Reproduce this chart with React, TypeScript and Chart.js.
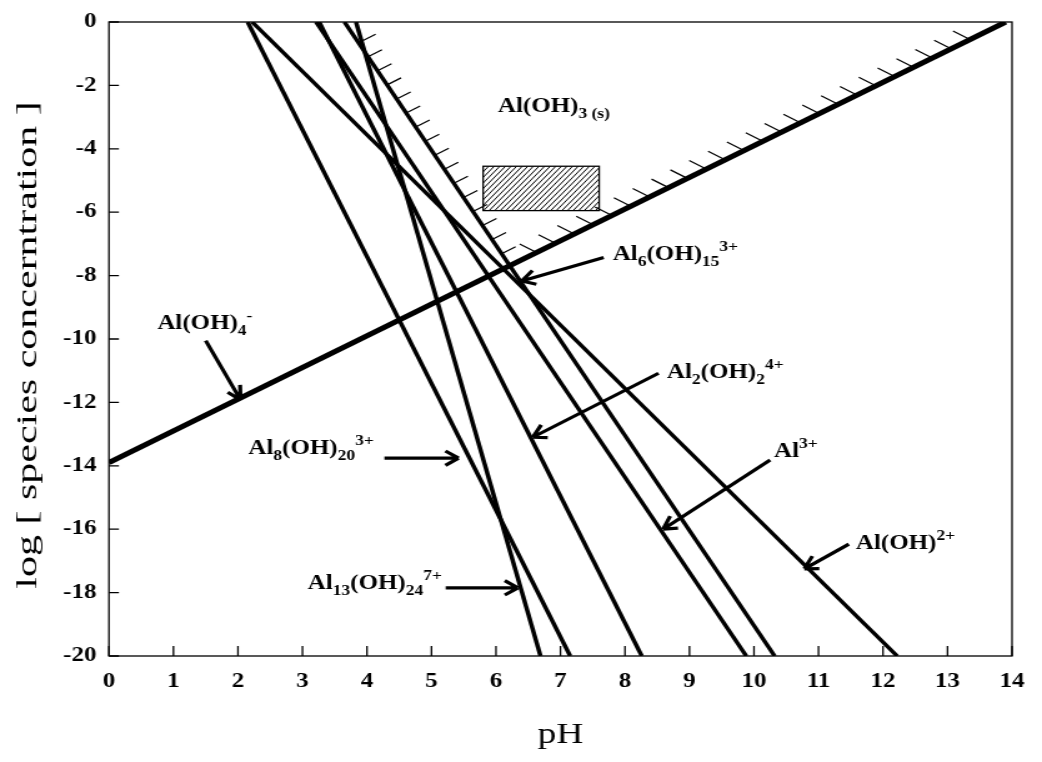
import React, { useEffect, useRef } from "react";
import { Chart, registerables } from "chart.js";

Chart.register(...registerables);

// horizontal stretch of the reference picture (text is ~1.25x wider than tall)
const SX = 1.25;
const CW = 1042;
const CH = 762;
const IW = Math.round(CW / SX);

// ---------------- data ----------------
const speciesLabels = [
  "Al(OH)4-",
  "Al3+",
  "Al(OH)2+",
  "Al2(OH)2 4+",
  "Al6(OH)15 3+",
  "Al8(OH)20 3+",
  "Al13(OH)24 7+",
];
const startPH = [0, 3.21, 2.22, 3.26, 3.65, 2.15, 3.83];
const startLog = [-13.9, 0, 0, 0, 0, 0, 0];
const endPH = [13.9, 9.88, 12.22, 8.26, 10.32, 7.15, 6.69];
const endLog = [0, -20, -20, -20, -20, -20, -20];

const xTickValues = [0, 1, 2, 3, 4, 5, 6, 7, 8, 9, 10, 11, 12, 13, 14];
const yTickValues = [0, -2, -4, -6, -8, -10, -12, -14, -16, -18, -20];

const xTitle = "pH";
const yTitle = "log [ species concerntration ]";

// hatched box inside the solid region
const boxPH = [5.8, 7.6];
const boxLog = [-4.55, -5.95];

// solid boundary is made of these lines (indices into the species arrays)
const boundaryUpper = 6; // Al13 line near the top
const boundaryLeft = 4; // Al6 line
const boundaryRight = 0; // Al(OH)4- line

// ---------------- annotation layout (data coords) ----------------
type Part = [string, number]; // 0 normal, 1 sub, 2 sup
const annotations: { parts: Part[]; at: [number, number]; from?: [number, number]; to?: [number, number] }[] = [
  { parts: [["Al(OH)", 0], ["3 (s)", 1]], at: [6.03, -2.84] },
  { parts: [["Al", 0], ["6", 1], ["(OH)", 0], ["15", 1], ["3+", 2]], at: [7.81, -7.52], from: [7.67, -7.43], to: [6.4, -8.17] },
  { parts: [["Al(OH)", 0], ["4", 1], ["-", 2]], at: [0.75, -9.7], from: [1.5, -10.05], to: [2.04, -11.92] },
  { parts: [["Al", 0], ["2", 1], ["(OH)", 0], ["2", 1], ["4+", 2]], at: [8.65, -11.23], from: [8.52, -11.08], to: [6.57, -13.1] },
  { parts: [["Al", 0], ["3+", 2]], at: [10.31, -13.73], from: [10.25, -13.82], to: [8.59, -16.0] },
  { parts: [["Al(OH)", 0], ["2+", 2]], at: [11.58, -16.63], from: [11.47, -16.47], to: [10.78, -17.25] },
  { parts: [["Al", 0], ["8", 1], ["(OH)", 0], ["20", 1], ["3+", 2]], at: [2.16, -13.63], from: [4.27, -13.76], to: [5.42, -13.76] },
  { parts: [["Al", 0], ["13", 1], ["(OH)", 0], ["24", 1], ["7+", 2]], at: [3.08, -17.88], from: [5.22, -17.85], to: [6.34, -17.85] },
];

const SERIF = "'Liberation Serif', 'Times New Roman', Times, serif";

function lineCoef(i: number) {
  const m = (endLog[i] - startLog[i]) / (endPH[i] - startPH[i]);
  return { m, b: startLog[i] - m * startPH[i] };
}
function intersect(i: number, j: number): [number, number] {
  const a = lineCoef(i);
  const c = lineCoef(j);
  const x = (c.b - a.b) / (a.m - c.m);
  return [x, a.m * x + a.b];
}

const decorPlugin = {
  id: "decor",
  afterDatasetsDraw(chart: any) {
    const { ctx, chartArea: a } = chart;
    const xs = chart.scales.x;
    const ys = chart.scales.y;
    const P = (ph: number, lg: number): [number, number] => [xs.getPixelForValue(ph), ys.getPixelForValue(lg)];
    ctx.save();
    ctx.strokeStyle = "#000";
    ctx.fillStyle = "#000";

    // frame
    ctx.lineWidth = 1.3;
    ctx.strokeRect(a.left, a.top, a.right - a.left, a.bottom - a.top);
    // inner tick marks
    ctx.beginPath();
    xs.ticks.forEach((t: any) => {
      const px = xs.getPixelForValue(t.value);
      ctx.moveTo(px, a.bottom);
      ctx.lineTo(px, a.bottom - 10);
    });
    ys.ticks.forEach((t: any) => {
      const py = ys.getPixelForValue(t.value);
      ctx.moveTo(a.left, py);
      ctx.lineTo(a.left + 10 / SX, py);
    });
    ctx.stroke();

    // y axis title (long, wide lettering)
    ctx.save();
    ctx.translate(28 / SX, (a.top + a.bottom) / 2 + 6);
    ctx.rotate(-Math.PI / 2);
    ctx.scale(1.4, 1 / SX);
    ctx.font = `30px ${SERIF}`;
    ctx.textAlign = "center";
    ctx.textBaseline = "middle";
    ctx.fillText(yTitle, 0, 0);
    ctx.restore();

    // hatch marks along the solid boundary
    const p0 = P(startPH[boundaryUpper], startLog[boundaryUpper]);
    const i1 = intersect(boundaryUpper, boundaryLeft);
    const p1 = P(i1[0], i1[1]);
    const i2 = intersect(boundaryLeft, boundaryRight);
    const p2 = P(i2[0], i2[1]);
    const p3 = P(endPH[boundaryRight], endLog[boundaryRight]);
    const walk = (pts: [number, number][], start: number, step: number, endGap: number, vx: number, vy: number) => {
      const r = pts.map(([x, y]) => [x * SX, y]);
      const segs: number[] = [];
      let total = 0;
      for (let k = 1; k < r.length; k++) {
        const d = Math.hypot(r[k][0] - r[k - 1][0], r[k][1] - r[k - 1][1]);
        segs.push(d);
        total += d;
      }
      ctx.beginPath();
      for (let s = start; s <= total - endGap; s += step) {
        let acc = 0;
        let k = 0;
        while (k < segs.length - 1 && acc + segs[k] < s) {
          acc += segs[k];
          k++;
        }
        const t = (s - acc) / segs[k];
        const X = r[k][0] + (r[k + 1][0] - r[k][0]) * t;
        const Y = r[k][1] + (r[k + 1][1] - r[k][1]) * t;
        ctx.moveTo(X / SX, Y);
        ctx.lineTo((X + vx) / SX, Y + vy);
      }
      ctx.stroke();
    };
    ctx.lineWidth = 1.2;
    walk([p0, p1, p2], 20, 17, 12, 14, -7);
    walk([p2, p3], 30, 21, 25, -17, -8.5);

    // hatched box
    const b1 = P(boxPH[0], boxLog[0]);
    const b2 = P(boxPH[1], boxLog[1]);
    const bh = b2[1] - b1[1];
    ctx.save();
    ctx.beginPath();
    ctx.rect(b1[0], b1[1], b2[0] - b1[0], bh);
    ctx.clip();
    ctx.lineWidth = 1;
    ctx.beginPath();
    for (let X = b1[0] * SX - bh; X < b2[0] * SX + 2; X += 5.6) {
      ctx.moveTo(X / SX, b2[1]);
      ctx.lineTo((X + bh) / SX, b1[1]);
    }
    ctx.stroke();
    ctx.restore();
    ctx.lineWidth = 1.3;
    ctx.strokeRect(b1[0], b1[1], b2[0] - b1[0], bh);

    // labels and arrows
    ctx.textBaseline = "alphabetic";
    ctx.textAlign = "left";
    annotations.forEach((an) => {
      let [x, y] = P(an.at[0], an.at[1]);
      an.parts.forEach(([t, kind]) => {
        const size = kind === 0 ? 20 : 14;
        ctx.font = `bold ${size}px ${SERIF}`;
        const dy = kind === 1 ? 6 : kind === 2 ? -9 : 0;
        ctx.fillText(t, x, y + dy);
        x += ctx.measureText(t).width;
      });
      if (an.from && an.to) {
        const [x1, y1] = P(an.from[0], an.from[1]);
        const [x2, y2] = P(an.to[0], an.to[1]);
        const X1 = x1 * SX;
        const X2 = x2 * SX;
        const ang = Math.atan2(y2 - y1, X2 - X1);
        const L = 15;
        const A = 0.5;
        ctx.lineWidth = 3.2;
        ctx.lineCap = "butt";
        ctx.beginPath();
        ctx.moveTo(x1, y1);
        ctx.lineTo(x2, y2);
        [-1, 1].forEach((s) => {
          const aa = ang + Math.PI + s * A;
          ctx.moveTo(x2, y2);
          ctx.lineTo((X2 + L * Math.cos(aa)) / SX, y2 + L * Math.sin(aa));
        });
        ctx.stroke();
      }
    });
    ctx.restore();
  },
};

export default function App() {
  const ref = useRef<HTMLCanvasElement>(null);
  useEffect(() => {
    const canvas = ref.current;
    if (!canvas) return;
    const tickFont = { family: SERIF, size: 20, weight: "bold" as const };
    const chart = new Chart(canvas, {
      type: "line",
      data: {
        datasets: speciesLabels.map((name, i) => ({
          label: name,
          data: [
            { x: startPH[i], y: startLog[i] },
            { x: endPH[i], y: endLog[i] },
          ],
          borderColor: "#000",
          borderWidth: i === 0 ? 5 : 3.5,
          pointRadius: 0,
          fill: false,
          tension: 0,
        })),
      },
      options: {
        animation: false,
        responsive: false,
        devicePixelRatio: 1,
        events: [],
        layout: { padding: { left: 0, top: 15, right: IW - 1023 / SX, bottom: 0 } },
        plugins: { legend: { display: false }, tooltip: { enabled: false }, title: { display: false } },
        scales: {
          x: {
            type: "linear",
            min: 0,
            max: 14,
            afterBuildTicks: (s: any) => {
              s.ticks = xTickValues.map((v) => ({ value: v }));
            },
            afterFit: (s: any) => {
              s.height = CH - 656;
            },
            grid: { display: false, drawTicks: false },
            border: { display: false },
            ticks: { font: tickFont, color: "#000", padding: 14, maxRotation: 0, autoSkip: false },
            title: { display: true, text: xTitle, color: "#000", font: { family: SERIF, size: 30 }, padding: { top: 0, bottom: 9 } },
          },
          y: {
            type: "linear",
            min: -20,
            max: 0,
            afterBuildTicks: (s: any) => {
              s.ticks = yTickValues.map((v) => ({ value: v }));
            },
            afterFit: (s: any) => {
              s.width = 109 / SX;
            },
            grid: { display: false, drawTicks: false },
            border: { display: false },
            ticks: { font: tickFont, color: "#000", padding: 10, autoSkip: false },
            title: { display: false },
          },
        },
      },
      plugins: [decorPlugin],
    } as any);
    return () => chart.destroy();
  }, []);
  return (
    <div style={{ position: "fixed", left: 0, top: 0, width: CW, height: CH, background: "#fff" }}>
      <canvas ref={ref} width={IW} height={CH} style={{ width: CW + "px", height: CH + "px", display: "block" }} />
    </div>
  );
}
